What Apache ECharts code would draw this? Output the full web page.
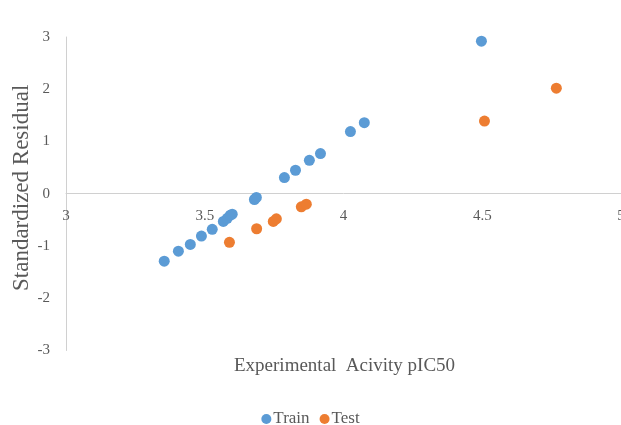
<!DOCTYPE html>
<html>
<head>
<meta charset="utf-8">
<script src="https://cdn.jsdelivr.net/npm/echarts@6/dist/echarts.min.js"></script>
<style>html,body{margin:0;padding:0;background:#fff;overflow:hidden;}#c{width:621px;height:425px;}</style>
</head>
<body>
<div id="c"></div>
<script>
const trainX = [3.354, 3.405, 3.448, 3.488, 3.527, 3.567, 3.581, 3.592, 3.599, 3.679, 3.686, 3.787, 3.827, 3.877, 3.917, 4.025, 4.075, 4.497];
const trainY = [-1.29, -1.10, -0.97, -0.81, -0.68, -0.53, -0.47, -0.41, -0.39, -0.11, -0.07, 0.31, 0.45, 0.64, 0.77, 1.19, 1.36, 2.92];
const testX = [3.589, 3.687, 3.747, 3.758, 3.848, 3.866, 4.508, 4.767];
const testY = [-0.93, -0.67, -0.53, -0.48, -0.25, -0.20, 1.39, 2.02];
const xTicks = [3, 3.5, 4, 4.5, 5];
const yTicks = [-3, -2, -1, 0, 1, 2, 3];

const font = 'Liberation Serif';
const chart = echarts.init(document.getElementById('c'), null, {renderer: 'canvas'});
chart.setOption({
  backgroundColor: '#ffffff',
  animation: false,
  grid: {left: 66, right: 0, top: 37, bottom: 74.5, containLabel: false, outerBoundsMode: 'none'},
  xAxis: {
    type: 'value', min: xTicks[0], max: xTicks[xTicks.length - 1], interval: 0.5,
    offset: -157,
    axisLine: {onZero: false, lineStyle: {color: '#d0d0d0', width: 1}},
    axisTick: {show: false},
    splitLine: {show: false},
    axisLabel: {color: '#595959', fontFamily: font, fontSize: 15, margin: 15, showMaxLabel: true}
  },
  yAxis: {
    type: 'value', min: yTicks[0], max: yTicks[yTicks.length - 1], interval: 1,
    axisLine: {show: true, onZero: false, lineStyle: {color: '#d0d0d0', width: 1}},
    axisTick: {show: false},
    splitLine: {show: false},
    axisLabel: {color: '#595959', fontFamily: font, fontSize: 15, margin: 16}
  },
  legend: {
    left: 'center', top: 405, padding: 5,
    icon: 'circle', itemWidth: 10, itemHeight: 10, itemGap: 10,
    textStyle: {color: '#595959', fontFamily: font, fontSize: 17, lineHeight: 18, padding: [0, 0, 0, -3]},
    data: ['Train', 'Test']
  },
  graphic: [
    {type: 'text', left: 234, top: 357, style: {text: 'Experimental  Acivity pIC50', fill: '#595959', font: '19px "Liberation Serif"'}},
    {type: 'text', x: 10, y: 291, rotation: Math.PI / 2, style: {text: 'Standardized Residual', fill: '#595959', font: '23px "Liberation Serif"', textBaseline: 'top'}}
  ],
  series: [
    {name: 'Train', type: 'scatter', symbolSize: 11, itemStyle: {color: '#5B9BD5', opacity: 1},
     data: trainX.map((x, i) => [x, trainY[i]])},
    {name: 'Test', type: 'scatter', symbolSize: 11, itemStyle: {color: '#ED7D31', opacity: 1},
     data: testX.map((x, i) => [x, testY[i]])}
  ]
});
</script>
</body>
</html>
